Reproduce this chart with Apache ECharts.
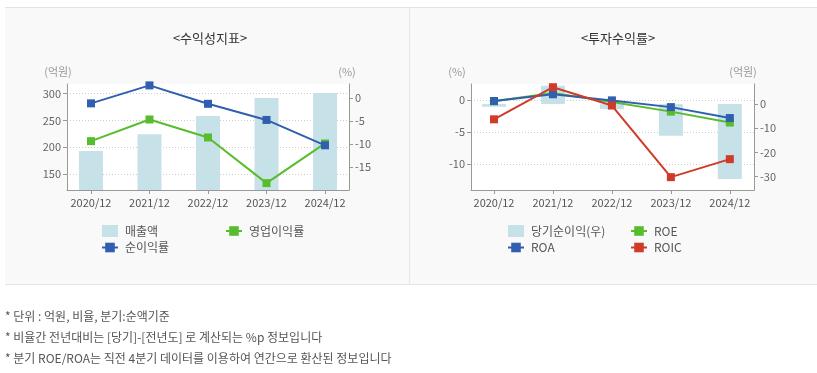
<!DOCTYPE html>
<html><head><meta charset="utf-8">
<script src="https://cdn.jsdelivr.net/npm/echarts@6/dist/echarts.min.js"></script>
<style>
html,body{margin:0;padding:0;background:#fff;width:817px;height:373px;overflow:hidden;font-family:"Noto Sans CJK KR","Noto Sans",sans-serif;}
.panel{position:absolute;top:7px;height:278px;background:#f9f9f9;border-top:1px solid #e3e3e3;border-bottom:1px solid #e6e6e6;box-sizing:border-box;}
#p1{left:5px;width:404px;}
#p2{left:409px;width:408px;border-left:1px solid #e6e6e6;}
#chart{position:absolute;left:0;top:0;width:817px;height:373px;}
.note{position:absolute;left:5px;font-size:12px;color:#555;line-height:16px;white-space:nowrap;}
</style></head>
<body>
<div class="panel" id="p1"></div>
<div class="panel" id="p2"></div>
<div id="chart"></div>
<div class="note" style="top:308px">* 단위 : 억원, 비율, 분기:순액기준</div>
<div class="note" style="top:329px">* 비율간 전년대비는 [당기]-[전년도] 로 계산되는 %p 정보입니다</div>
<div class="note" style="top:350px">* 분기 ROE/ROA는 직전 4분기 데이터를 이용하여 연간으로 환산된 정보입니다</div>
<script>
const categories = ['2020/12','2021/12','2022/12','2023/12','2024/12'];
// left chart
const revenue = [193, 224, 258, 292, 301];          // 매출액 (억원)
const opMargin = [-9.4, -4.7, -8.6, -18.5, -9.9];   // 영업이익률 (%)
const netMargin = [-1.2, 2.7, -1.3, -4.8, -10.3];   // 순이익률 (%)
const leftTicksL = [150, 200, 250, 300];
const leftTicksR = [0, -5, -10, -15];
// right chart
const netIncome = [-1.1, 7.6, -2.1, -13.1, -31];    // 당기순이익(우) (억원)
const roe = [-0.2, 1.1, -0.3, -1.8, -3.5];
const roa = [-0.15, 0.9, -0.05, -1.1, -2.8];
const roic = [-3.0, 2.0, -0.85, -12.0, -9.2];
const rightTicksL = [0, -5, -10];
const rightTicksR = [0, -10, -20, -30];

const FONT = '"Noto Sans CJK KR","Noto Sans",sans-serif';
const BAR = '#c6e2e8', BLUE = '#2f5fae', GREEN = '#58bd2c', RED = '#cf3b28';
const AXC = '#999', LBL = '#666';
const catIdx = categories.map((c, i) => i);
const pair = (arr) => arr.map((v, i) => [i, v]);

function yAxis(opts) {
  return {
    type: 'value', gridIndex: opts.grid, position: opts.pos,
    min: opts.min, max: opts.max,
    name: opts.name, nameLocation: 'end', nameGap: 7,
    nameTextStyle: {color: '#999', fontSize: 11, fontFamily: FONT, align: 'center', padding: opts.namePad},
    axisLine: {show: true, onZero: false, lineStyle: {color: AXC}},
    axisTick: {show: true, length: 4, lineStyle: {color: AXC}, customValues: opts.ticks},
    axisLabel: {color: LBL, fontSize: 11, fontFamily: FONT, margin: 6, customValues: opts.ticks},
    splitLine: {show: opts.split, lineStyle: {color: '#ccc', type: [1, 2]}}
  };
}
function xAxis(grid, min, max) {
  return {
    type: 'value', gridIndex: grid, min: min, max: max,
    axisLine: {onZero: false, lineStyle: {color: AXC}},
    axisTick: {show: true, length: 4, lineStyle: {color: AXC}, customValues: catIdx},
    axisLabel: {color: '#555', fontSize: 11, fontFamily: FONT, margin: 7, customValues: catIdx,
                formatter: (v) => categories[Math.round(v)] || ''},
    splitLine: {show: false}
  };
}
const lineSeries = (c) => ({
  type: 'line', symbol: 'rect', symbolSize: 8, showSymbol: true,
  itemStyle: {color: c}, lineStyle: {color: c, width: 2}, z: 3
});

const legendBase = {
  orient: 'vertical', itemWidth: 16, itemHeight: 12, itemGap: 4.5,
  textStyle: {color: '#555', fontSize: 12, fontFamily: FONT, padding: [0,0,0,2]}
};

const option = {
  animation: false,
  title: [
    {text: '<수익성지표>', left: 205, top: 27, textAlign: 'center', textStyle: {fontSize: 13, fontWeight: 'normal', color: '#333', fontFamily: FONT}},
    {text: '<투자수익률>', left: 613, top: 27, textAlign: 'center', textStyle: {fontSize: 13, fontWeight: 'normal', color: '#333', fontFamily: FONT}}
  ],
  grid: [
    {left: 67, top: 84, width: 282, height: 106, show: true, backgroundColor: '#fff', borderWidth: 0},
    {left: 471, top: 84, width: 283, height: 106, show: true, backgroundColor: '#fff', borderWidth: 0}
  ],
  xAxis: [xAxis(0, -0.41, 4.41), xAxis(1, -0.39, 4.41)],
  yAxis: [
    yAxis({grid: 0, pos: 'left', min: 120, max: 318, ticks: leftTicksL, split: true, name: '(억원)', namePad: [0, 18, 0, 0]}),
    yAxis({grid: 0, pos: 'right', min: -20, max: 3, ticks: leftTicksR, split: false, name: '(%)', namePad: [0, 4, 0, 0]}),
    yAxis({grid: 1, pos: 'left', min: -14, max: 2.5, ticks: rightTicksL, split: true, name: '(%)', namePad: [0, 28, 0, 0]}),
    yAxis({grid: 1, pos: 'right', min: -35.5, max: 8.3, ticks: rightTicksR, split: false, name: '(억원)', namePad: [0, 22, 0, 0]})
  ],
  legend: [
    Object.assign({}, legendBase, {left: 96, top: 220, data: [{name: '매출액', icon: 'rect'}, '순이익률']}),
    Object.assign({}, legendBase, {left: 220, top: 220, data: ['영업이익률']}),
    Object.assign({}, legendBase, {left: 502, top: 220, data: [{name: '당기순이익(우)', icon: 'rect'}, 'ROA']}),
    Object.assign({}, legendBase, {left: 625, top: 220, data: ['ROE', 'ROIC']})
  ],
  series: [
    {name: '매출액', type: 'bar', xAxisIndex: 0, yAxisIndex: 0, data: pair(revenue), barWidth: 24, itemStyle: {color: BAR}, z: 1},
    Object.assign(lineSeries(GREEN), {name: '영업이익률', xAxisIndex: 0, yAxisIndex: 1, data: pair(opMargin)}),
    Object.assign(lineSeries(BLUE), {name: '순이익률', xAxisIndex: 0, yAxisIndex: 1, data: pair(netMargin)}),
    {name: '당기순이익(우)', type: 'bar', xAxisIndex: 1, yAxisIndex: 3, data: pair(netIncome), barWidth: 24, itemStyle: {color: BAR}, z: 1},
    Object.assign(lineSeries(GREEN), {name: 'ROE', xAxisIndex: 1, yAxisIndex: 2, data: pair(roe)}),
    Object.assign(lineSeries(BLUE), {name: 'ROA', xAxisIndex: 1, yAxisIndex: 2, data: pair(roa)}),
    Object.assign(lineSeries(RED), {name: 'ROIC', xAxisIndex: 1, yAxisIndex: 2, data: pair(roic)})
  ]
};
const chart = echarts.init(document.getElementById('chart'), null, {renderer: 'canvas'});
chart.setOption(option);
</script>
</body></html>
